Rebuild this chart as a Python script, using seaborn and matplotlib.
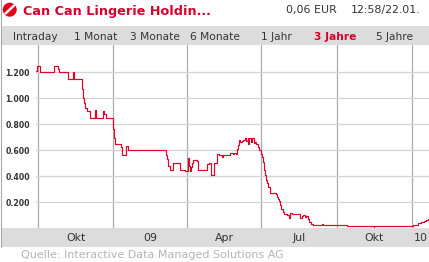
import matplotlib
matplotlib.use("Agg")
import matplotlib.pyplot as plt
import matplotlib.dates as mdates
import seaborn as sns
import pandas as pd
from matplotlib.patches import Rectangle, Ellipse
from matplotlib.lines import Line2D

# ---------------- data ----------------
dates = [
    "2008-09-29", "2008-09-30", "2008-10-03", "2008-10-21", "2008-10-25", "2008-10-27",
    "2008-11-07", "2008-11-13", "2008-11-14", "2008-11-24", "2008-11-25", "2008-11-26",
    "2008-11-27", "2008-11-30", "2008-12-04", "2008-12-10", "2008-12-11", "2008-12-19",
    "2008-12-21", "2008-12-23", "2009-01-01", "2009-01-02", "2009-01-03", "2009-01-10",
    "2009-01-12", "2009-01-17", "2009-01-19", "2009-03-06", "2009-03-08", "2009-03-09",
    "2009-03-11", "2009-03-15", "2009-03-24", "2009-03-30", "2009-04-02", "2009-04-04",
    "2009-04-05", "2009-04-06", "2009-04-07", "2009-04-08", "2009-04-13", "2009-04-15",
    "2009-04-26", "2009-04-28", "2009-04-30", "2009-05-01", "2009-05-04", "2009-05-08",
    "2009-05-10", "2009-05-14", "2009-05-15", "2009-05-24", "2009-05-27", "2009-05-29",
    "2009-05-31", "2009-06-01", "2009-06-02", "2009-06-04", "2009-06-05", "2009-06-07",
    "2009-06-08", "2009-06-10", "2009-06-11", "2009-06-12", "2009-06-14", "2009-06-15",
    "2009-06-16", "2009-06-18", "2009-06-19", "2009-06-20", "2009-06-22", "2009-06-23",
    "2009-06-24", "2009-06-27", "2009-06-28", "2009-06-30", "2009-07-01", "2009-07-02",
    "2009-07-03", "2009-07-04", "2009-07-05", "2009-07-07", "2009-07-08", "2009-07-09",
    "2009-07-11", "2009-07-12", "2009-07-19", "2009-07-20", "2009-07-21", "2009-07-22",
    "2009-07-24", "2009-07-25", "2009-07-27", "2009-07-28", "2009-08-01", "2009-08-04",
    "2009-08-05", "2009-08-07", "2009-08-15", "2009-08-17", "2009-08-20", "2009-08-21",
    "2009-08-23", "2009-08-25", "2009-08-27", "2009-08-28", "2009-08-30", "2009-09-02",
    "2009-09-13", "2009-09-14", "2009-10-01", "2009-10-14", "2009-11-15", "2009-11-16",
    "2010-01-01", "2010-01-02", "2010-01-08", "2010-01-10", "2010-01-12", "2010-01-14",
    "2010-01-16", "2010-01-18", "2010-01-20",
]
prices = [
    1.21, 1.25, 1.20, 1.25, 1.225, 1.20,
    1.15, 1.20, 1.15, 1.07, 1.00, 0.96,
    0.92, 0.90, 0.85, 0.905, 0.85, 0.90,
    0.875, 0.85, 0.76, 0.69, 0.65, 0.62,
    0.56, 0.63, 0.60, 0.56, 0.53, 0.48,
    0.45, 0.50, 0.45, 0.44, 0.535, 0.48,
    0.44, 0.47, 0.50, 0.525, 0.515, 0.45,
    0.49, 0.50, 0.45, 0.405, 0.50, 0.57,
    0.565, 0.55, 0.565, 0.575, 0.572, 0.58,
    0.572, 0.61, 0.635, 0.675, 0.665, 0.67,
    0.68, 0.675, 0.695, 0.67, 0.69, 0.65,
    0.695, 0.66, 0.69, 0.695, 0.655, 0.66,
    0.645, 0.625, 0.60, 0.585, 0.57, 0.545,
    0.51, 0.445, 0.405, 0.37, 0.345, 0.315,
    0.28, 0.27, 0.26, 0.24, 0.225, 0.21,
    0.175, 0.15, 0.125, 0.11, 0.10, 0.08,
    0.115, 0.11, 0.105, 0.08, 0.09, 0.10,
    0.085, 0.09, 0.07, 0.046, 0.033, 0.026,
    0.03, 0.024, 0.022, 0.016, 0.01, 0.016,
    0.018, 0.026, 0.04, 0.036, 0.045, 0.05,
    0.056, 0.064, 0.072,
]

title = "Can Can Lingerie Holdin..."
price_text = "0,06 EUR"
time_text = "12:58/22.01."
tabs = ["Intraday", "1 Monat", "3 Monate", "6 Monate", "1 Jahr", "3 Jahre", "5 Jahre"]
active_tab = "3 Jahre"
quarter_starts = ["2008-10-01", "2009-01-01", "2009-04-01", "2009-07-01", "2009-10-01", "2010-01-01"]
x_labels = ["Okt", "09", "Apr", "Jul", "Okt", "10"]
y_ticks = [0.2, 0.4, 0.6, 0.8, 1.0, 1.2]
y_labels = ["0.200", "0.400", "0.600", "0.800", "1.000", "1.200"]
source = "Quelle: Interactive Data Managed Solutions AG"

# ---------------- style ----------------
sns.set_theme(style="white")
plt.rcParams['font.family'] = ['DejaVu Sans']

RED = "#d9002b"
DARK = "#333333"
BAND = "#dcdcdc"

W, H = 429, 262
fig = plt.figure(figsize=(W / 100, H / 100), dpi=100)
fig.patch.set_facecolor("white")


def fx(px):
    return px / W


def fy(py):
    return 1 - py / H


# background bands
fig.add_artist(Rectangle((fx(1), fy(45)), fx(428), 19 / H, transform=fig.transFigure,
                         facecolor=BAND, edgecolor="none", zorder=0))
fig.add_artist(Rectangle((fx(1), fy(247)), fx(428), 19 / H, transform=fig.transFigure,
                         facecolor=BAND, edgecolor="none", zorder=0))
fig.add_artist(Line2D([fx(0.5), fx(0.5)], [fy(0), fy(247)], transform=fig.transFigure,
                      color="#a8a8a8", lw=0.8))

# header
fig.add_artist(Ellipse((fx(9.7), fy(9.7)), fx(14), 14 / H, transform=fig.transFigure,
                       facecolor="#e2001a", edgecolor="none"))
fig.add_artist(Line2D([fx(5.5), fx(14)], [fy(13.5), fy(5.5)], transform=fig.transFigure,
                      color="white", lw=1.8, solid_capstyle="round"))
fig.text(fx(23), fy(11), title, color=RED, fontsize=9.2, fontweight="bold",
         ha="left", va="center")
fig.text(fx(286), fy(10.5), price_text, color=DARK, fontsize=7.9, ha="left", va="center")
fig.text(fx(351), fy(10.5), time_text, color=DARK, fontsize=7.9, ha="left", va="center")

tab_centers = [35.5, 95.5, 155, 215, 276, 335, 395]
for t, cx in zip(tabs, tab_centers):
    active = t == active_tab
    fig.text(fx(cx), fy(36.5), t, color=RED if active else DARK, fontsize=7.7,
             fontweight="bold" if active else "normal", ha="center", va="center")

fig.text(fx(21), fy(255.5), source, color="#b4b4b4", fontsize=8.0, ha="left", va="center")

# ---------------- chart ----------------
ax = fig.add_axes([fx(36), fy(228), fx(429 - 36), (228 - 45) / H])
ax.set_facecolor("none")

df = pd.DataFrame({"date": pd.to_datetime(dates), "price": prices})
sns.lineplot(data=df, x="date", y="price", ax=ax, color="#e0002a", lw=0.85,
             drawstyle="steps-post", zorder=5)

qs = pd.to_datetime(quarter_starts)
q0 = mdates.date2num(qs[0])
q_last = mdates.date2num(qs[-1])
k = (q_last - q0) / (412 - 38)   # days per pixel
xmin = q0 + (36 - 38) * k
xmax = q0 + (429 - 38) * k
ax.set_xlim(xmin, xmax)
ax.set_ylim(0, (228 - 45) / 130.0)

qnum = [mdates.date2num(q) for q in qs]
ax.set_xticks(qnum)
ax.set_xticklabels([""] * len(qnum))
bounds = qnum + [xmax]
mids = [(bounds[i] + bounds[i + 1]) / 2 for i in range(len(qnum))]
ax.set_xticks(mids, minor=True)
ax.set_xticklabels(x_labels, minor=True)
ax.tick_params(axis="x", which="both", length=0)
ax.tick_params(axis="x", which="minor", labelsize=7.9, labelcolor=DARK, pad=3.5)

ax.set_yticks(y_ticks)
ax.set_yticklabels(y_labels)
ax.tick_params(axis="y", length=0, labelsize=5.6, labelcolor=DARK, pad=4.5)
for lab in ax.get_yticklabels():
    lab.set_fontweight("bold")

ax.grid(axis="x", which="major", color="#aaaaaa", lw=0.9)
ax.grid(axis="y", which="major", color="#d4d4d4", lw=0.9)
ax.grid(axis="x", which="minor", visible=False)
ax.set_xlabel("")
ax.set_ylabel("")
for s in ax.spines.values():
    s.set_visible(False)
leg = ax.get_legend()
if leg:
    leg.remove()

fig.savefig("out.png", dpi=100)
